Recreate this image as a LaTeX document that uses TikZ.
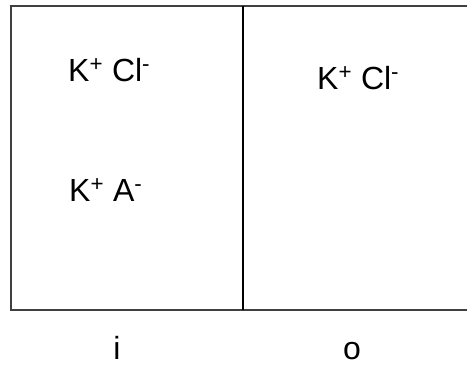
\documentclass[tikz,border=0pt]{standalone}
\usepackage{fontspec}
\setmainfont{Liberation Sans}
\begin{document}
\begin{tikzpicture}[x=1pt,y=-1pt,
  ion/.style={anchor=base west,inner sep=0pt,font=\fontsize{32}{36}\selectfont},
  lbl/.style={anchor=base,inner sep=0pt,text depth=0pt,font=\fontsize{32}{36}\selectfont},
  wall/.style={draw=black!75,line width=1.7pt},
  membrane/.style={draw=black,line width=1.5pt}]
\useasboundingbox (0,0) rectangle (467,365);
\coordinate (tl) at (11,6);
\coordinate (bl) at (11,310);
\coordinate (tr) at (470,6);
\coordinate (br) at (470,310);
\coordinate (mt) at (243,6);
\coordinate (mb) at (243,310);
\draw[wall] (tr) -- (tl) -- (bl) -- (br);
\draw[membrane] (mt) -- (mb);
\node[ion] (kcli) at (68,81) {K\textsuperscript{+} Cl\textsuperscript{-}};
\node[ion] (kai) at (69,201) {K\textsuperscript{+} A\textsuperscript{-}};
\node[ion] (kclo) at (317,89) {K\textsuperscript{+} Cl\textsuperscript{-}};
\node[lbl] (i) at (117,359) {i};
\node[lbl] (o) at (352,359) {o};
\end{tikzpicture}
\end{document}
